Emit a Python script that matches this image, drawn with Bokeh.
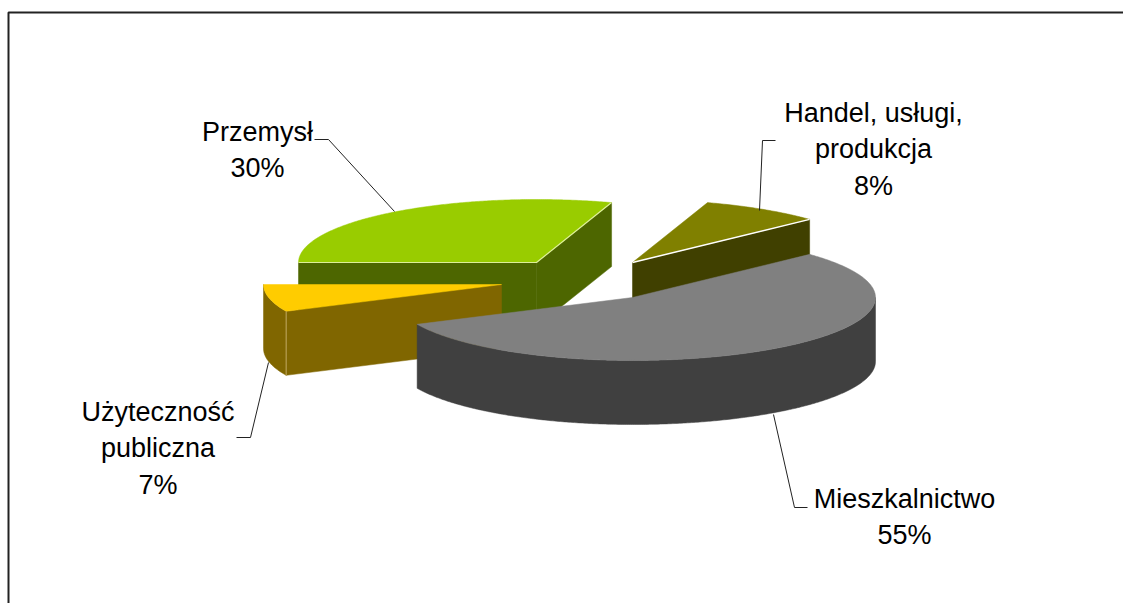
import numpy as np
from bokeh.core.properties import value
from bokeh.embed import file_html
from bokeh.models import Range1d
from bokeh.plotting import figure
from bokeh.resources import INLINE

# Energy use by sector, in percent
categories = ["Przemysł", "Użyteczność publiczna", "Mieszkalnictwo", "Handel, usługi, produkcja"]
shares = [30, 7, 55, 8]
label_lines = [["Przemysł"], ["Użyteczność", "publiczna"], ["Mieszkalnictwo"], ["Handel, usługi,", "produkcja"]]

top_colors = ["#99CC00", "#FFCC00", "#808080", "#808000"]
side_colors = ["#4D6600", "#806600", "#404040", "#404000"]

# Projected pie geometry, in page pixels
START_ANGLE = 72.0
RX_LEFT, RX_RIGHT, RY = 238.0, 243.0, 63.0
DEPTH = 64.0
CENTERS = [(536, 262), (501, 284), (632, 297), (632, 262)]

LABEL_X = [257, 157.5, 904, 873]
LABEL_BASE = [131, 411, 498, 112]
LINE_STEP = 36.5
LEADERS = [
    [(314, 139), (328, 139), (394, 211)],
    [(268, 362), (250, 437), (236, 437)],
    [(773, 414), (794, 507), (807, 507)],
    [(775, 140), (762, 140), (759, 210)],
]

p = figure(width=1123, height=603, output_backend="svg", toolbar_location=None,
           x_range=Range1d(0, 1123), y_range=Range1d(603, 0),
           min_border=0, outline_line_color=None, background_fill_color="white")
p.axis.visible = False
p.grid.visible = False


def rim(center, a0, a1):
    """Points on a slice's rim going from angle a0 to a1 (degrees)."""
    t = np.radians(np.linspace(a0, a1, max(int(abs(a1 - a0) * 2), 8)))
    c = np.cos(t)
    rx = np.where(c > 0, RX_RIGHT, RX_LEFT)
    return center[0] + rx * c, center[1] - RY * np.sin(t)


# Angular extents run counter-clockwise from the start angle
spans = []
angle = START_ANGLE
for s in shares:
    spans.append((angle, angle + s * 3.6))
    angle += s * 3.6

# Slices are painted back to front
for i in [0, 3, 1, 2]:
    cx, cy = CENTERS[i]
    a0, a1 = spans[i]
    xs, ys = rim((cx, cy), a0, a1)

    # Straight cut walls that face the viewer
    for (ex, ey), visible in (((xs[0], ys[0]), i in (0, 3)), ((xs[-1], ys[-1]), i in (0, 1))):
        if visible:
            p.patch([cx, ex, ex, cx], [cy, ey, ey + DEPTH, cy + DEPTH],
                    fill_color=side_colors[i], line_color=side_colors[i], line_width=0.5)

    # Curved outer wall for the part of the rim on the front half
    lo = max(a0, 180.0)
    hi = min(a1, 360.0)
    if hi > lo:
        wx, wy = rim((cx, cy), lo, hi)
        p.patch(np.concatenate([wx, wx[::-1]]), np.concatenate([wy, wy[::-1] + DEPTH]),
                fill_color=side_colors[i], line_color=side_colors[i], line_width=0.5)

    # Top face
    p.patch(np.concatenate([[cx], xs]), np.concatenate([[cy], ys]),
            fill_color=top_colors[i], line_color=top_colors[i], line_width=0.5)

    # Highlights along the lit edges
    if i == 0:
        p.line([xs[-1], cx, xs[0]], [ys[-1], cy, ys[0]], line_color="#DDEE99", line_width=1.2)
    if i == 3:
        p.line([cx, xs[0]], [cy, ys[0]], line_color="white", line_width=1.5)
    if i == 1:
        p.line([xs[-1], xs[-1]], [ys[-1], ys[-1] + DEPTH], line_color="#C0A860", line_width=1)

# Leader lines
for path in LEADERS:
    p.line([q[0] for q in path], [q[1] for q in path], line_color="#222222", line_width=1)

# Category names and percentages
for i, lines in enumerate(label_lines):
    rows = lines + [f"{shares[i]}%"]
    p.text([LABEL_X[i]] * len(rows), [LABEL_BASE[i] + k * LINE_STEP for k in range(len(rows))],
           text=rows, text_align="center", text_baseline="alphabetic",
           text_font=value("Liberation Sans"), text_font_size="27px", text_color="#000000")

# Frame on the top and left sides of the page
p.line([8, 8, 1123], [603, 12, 12], line_color="#222222", line_width=2)

open("out.html", "w").write(file_html(p, INLINE))
